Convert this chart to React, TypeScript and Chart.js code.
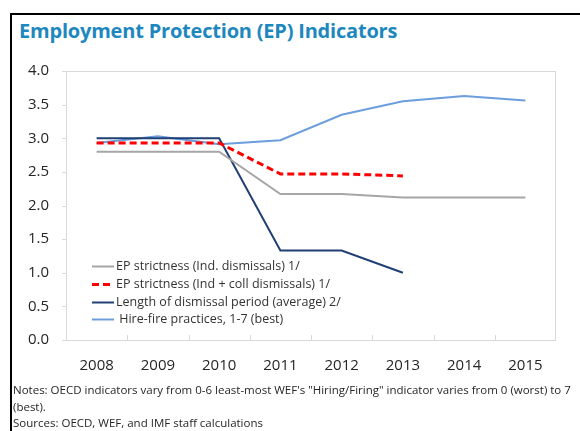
import React, { useEffect, useRef } from "react";
import { Chart, registerables } from "chart.js";

Chart.register(...registerables);

const years = ["2008", "2009", "2010", "2011", "2012", "2013", "2014", "2015"];
const epIndividual = [2.8, 2.8, 2.8, 2.17, 2.17, 2.12, 2.12, 2.12];
const epIndColl = [2.93, 2.93, 2.93, 2.47, 2.47, 2.44, null, null];
const dismissalPeriod = [3.0, 3.0, 3.0, 1.33, 1.33, 1.0, null, null];
const hireFire = [2.93, 3.03, 2.91, 2.97, 3.35, 3.55, 3.63, 3.56];
const yTicks = [0, 0.5, 1, 1.5, 2, 2.5, 3, 3.5, 4];

const legendLabels = [
  "EP strictness (Ind. dismissals) 1/",
  "EP strictness (Ind + coll dismissals) 1/",
  "Length of dismissal period (average) 2/",
  " Hire-fire practices, 1-7 (best)",
];

const FONT = "'Open Sans', 'Noto Sans', sans-serif";

const framePlugin = {
  id: "frame",
  afterDraw(chart: any) {
    const { ctx, chartArea: a, scales } = chart;
    ctx.save();
    ctx.strokeStyle = "#D9D9D9";
    ctx.lineWidth = 1;
    ctx.strokeRect(a.left + 0.5, a.top + 0.5, a.right - a.left - 1, a.bottom - a.top);
    // inward x ticks at category boundaries
    const x = scales.x;
    ctx.beginPath();
    for (let i = 1; i < years.length; i++) {
      const px = Math.round((x.getPixelForValue(i - 1) + x.getPixelForValue(i)) / 2) + 0.5;
      ctx.moveTo(px, a.bottom);
      ctx.lineTo(px, a.bottom - 5);
    }
    // outward y ticks
    const y = scales.y;
    for (const t of yTicks) {
      const py = Math.round(y.getPixelForValue(t)) + 0.5;
      ctx.moveTo(a.left - 4, py);
      ctx.lineTo(a.left, py);
    }
    ctx.stroke();

    // legend
    const ds = chart.data.datasets;
    ctx.font = `12.5px ${FONT}`;
    ctx.textBaseline = "middle";
    ctx.fillStyle = "#333333";
    for (let i = 0; i < ds.length; i++) {
      const ly = Math.round(a.bottom - 74 + i * 17.8) + 0.5;
      const lx = a.left + 26;
      ctx.beginPath();
      ctx.strokeStyle = ds[i].borderColor;
      ctx.lineWidth = ds[i].borderWidth;
      ctx.setLineDash(ds[i].borderDash || []);
      ctx.moveTo(lx, ly);
      ctx.lineTo(lx + 22, ly);
      ctx.stroke();
      ctx.setLineDash([]);
      ctx.fillText(legendLabels[i], lx + 24, ly);
    }
    ctx.restore();
  },
};

export default function App() {
  const ref = useRef<HTMLCanvasElement>(null);
  useEffect(() => {
    if (!ref.current) return;
    const chart = new Chart(ref.current, {
      type: "line",
      data: {
        labels: years,
        datasets: [
          { label: legendLabels[0], data: epIndividual, borderColor: "#A6A6A6", borderWidth: 2, pointRadius: 0, tension: 0 },
          { label: legendLabels[1], data: epIndColl, borderColor: "#FF0000", borderWidth: 3, borderDash: [7, 4], pointRadius: 0, tension: 0 },
          { label: legendLabels[2], data: dismissalPeriod, borderColor: "#1F3F75", borderWidth: 2, pointRadius: 0, tension: 0 },
          { label: legendLabels[3], data: hireFire, borderColor: "#6C9EDE", borderWidth: 2, pointRadius: 0, tension: 0 },
        ] as any,
      },
      options: {
        animation: false,
        responsive: false,
        maintainAspectRatio: false,
        layout: { padding: { left: 10, top: 71, right: 24, bottom: 51 } },
        plugins: { legend: { display: false }, tooltip: { enabled: false }, title: { display: false } },
        scales: {
          x: {
            offset: true,
            grid: { display: false },
            border: { display: false },
            ticks: { color: "#262626", font: { family: FONT, size: 15 }, padding: 9 },
            afterFit: (s: any) => { s.height = 40; },
          },
          y: {
            min: 0,
            max: 4,
            grid: { display: false },
            border: { display: false },
            afterBuildTicks: (s: any) => { s.ticks = yTicks.map((v) => ({ value: v })); },
            ticks: {
              color: "#262626",
              font: { family: FONT, size: 15 },
              padding: 9,
              callback: (v: any) => Number(v).toFixed(1),
            },
            afterFit: (s: any) => { s.width = 56; },
          },
        },
      },
      plugins: [framePlugin],
    });
    return () => chart.destroy();
  }, []);

  return (
    <div style={{ position: "absolute", left: 0, top: 0, width: 580, height: 431, background: "#fff", overflow: "hidden" }}>
      <div style={{ position: "absolute", left: 10, top: 13, width: 600, height: 460, border: "2px solid #000", boxSizing: "border-box" }} />
      <div style={{ position: "absolute", left: 19, top: 17, fontFamily: FONT, fontWeight: 700, fontSize: 20, color: "#1D87BF", whiteSpace: "nowrap", letterSpacing: -0.2 }}>
        Employment Protection (EP) Indicators
      </div>
      <canvas ref={ref} width={580} height={431} style={{ position: "absolute", left: 0, top: 0 }} />
      <div style={{ position: "absolute", left: 13, top: 382, width: 565, fontFamily: FONT, fontSize: 11.5, lineHeight: "16.5px", color: "#262626" }}>
        <div>Notes: OECD indicators vary from 0-6 least-most WEF's "Hiring/Firing" indicator varies from 0 (worst) to 7 (best).</div>
        <div>Sources: OECD, WEF, and IMF staff calculations</div>
      </div>
    </div>
  );
}
